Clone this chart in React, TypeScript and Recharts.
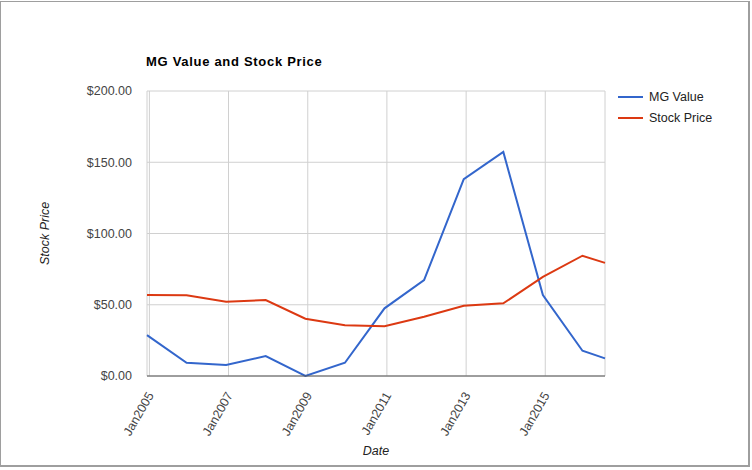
import { LineChart, Line, XAxis, YAxis, CartesianGrid, Legend } from 'recharts'

const dates = [
  '2004-12-10',
  '2005-12-10',
  '2006-12-10',
  '2007-12-10',
  '2008-12-10',
  '2009-12-10',
  '2010-12-10',
  '2011-12-10',
  '2012-12-10',
  '2013-12-10',
  '2014-12-10',
  '2015-12-10',
  '2016-07-05',
]
const mgValue = [28.7, 9.3, 7.7, 14.0, 0, 9.3, 47.5, 67.3, 138.1, 157.2, 56.8, 17.7, 12.4]
const stockPrice = [56.8, 56.7, 52.1, 53.3, 40.2, 35.7, 35.0, 41.6, 49.3, 51.0, 69.6, 84.4, 79.4]
const xTickYears = [2005, 2007, 2009, 2011, 2013, 2015]
const yTicks = [0, 50, 100, 150, 200]

const FONT = '"Liberation Sans", Arial, sans-serif'
const BLUE = '#3366cc'
const RED = '#dc3912'

const data = dates.map((d, i) => ({
  t: Date.parse(d + 'T00:00:00Z'),
  mg: mgValue[i],
  price: stockPrice[i],
}))
const xTicks = xTickYears.map((y) => Date.UTC(y, 0, 1))

const XTick = (props: any) => {
  const { x, y, payload } = props
  const yr = new Date(payload.value).getUTCFullYear()
  return (
    <g transform={`translate(${x + 1},${y + 15}) rotate(-60)`}>
      <text
        textAnchor="end"
        dy="0.35em"
        fill="#444"
        fontSize={12.5}
        fontFamily={FONT}
      >
        {'Jan' + yr}
      </text>
    </g>
  )
}

const LegendBox = () => (
  <div style={{ fontFamily: FONT, fontSize: 12.5, color: '#222' }}>
    {[
      { name: 'MG Value', color: BLUE },
      { name: 'Stock Price', color: RED },
    ].map((s) => (
      <div key={s.name} style={{ display: 'flex', alignItems: 'center', height: 21 }}>
        <span style={{ width: 25, height: 2, background: s.color, marginRight: 6 }} />
        {s.name}
      </div>
    ))}
  </div>
)

export default function App() {
  return (
    <div
      style={{
        position: 'fixed',
        left: 0,
        top: 0,
        width: 752,
        height: 470,
        background: '#fff',
        fontFamily: FONT,
      }}
    >
      <div
        style={{
          position: 'absolute',
          left: 0,
          top: 1,
          width: 747,
          height: 463,
          border: '1px solid #9e9e9e',
          borderWidth: '1px 2px 2px 1px',
        }}
      />
      <div
        style={{
          position: 'absolute',
          left: 146,
          top: 54,
          fontSize: 13,
          fontWeight: 'bold',
          letterSpacing: 0.7,
          color: '#000',
        }}
      >
        MG Value and Stock Price
      </div>
      <div style={{ position: 'absolute', left: 0, top: 0 }}>
        <LineChart
          width={752}
          height={470}
          data={data}
          margin={{ top: 91, right: 147, left: 0, bottom: 0 }}
        >
          <CartesianGrid stroke="#d0d0d0" strokeWidth={1} />
          <XAxis
            dataKey="t"
            type="number"
            scale="time"
            domain={['dataMin', 'dataMax']}
            ticks={xTicks}
            tick={<XTick />}
            tickLine={false}
            tickSize={0}
            axisLine={{ stroke: '#555', strokeWidth: 1 }}
            height={94}
            interval={0}
            label={{
              value: 'Date',
              position: 'insideBottom',
              offset: 15,
              fill: '#222',
              fontSize: 12.5,
              fontStyle: 'italic',
              fontFamily: FONT,
            }}
          />
          <YAxis
            type="number"
            domain={[0, 200]}
            ticks={yTicks}
            tickFormatter={(v: number) => '$' + v.toFixed(2)}
            tick={{ fill: '#444', fontSize: 12.5, fontFamily: FONT }}
            tickLine={false}
            tickSize={0}
            tickMargin={15}
            axisLine={false}
            width={147}
            label={{
              value: 'Stock Price',
              angle: -90,
              position: 'insideLeft',
              offset: 45,
              fill: '#222',
              fontSize: 12.5,
              fontStyle: 'italic',
              fontFamily: FONT,
              style: { textAnchor: 'middle' },
            }}
          />
          <Legend
            layout="horizontal"
            align="center"
            verticalAlign="middle"
            content={<LegendBox />}
            wrapperStyle={{ top: 86, left: 618, width: 130 }}
          />
          <Line
            type="linear"
            dataKey="mg"
            name="MG Value"
            stroke={BLUE}
            strokeWidth={2}
            dot={false}
            isAnimationActive={false}
          />
          <Line
            type="linear"
            dataKey="price"
            name="Stock Price"
            stroke={RED}
            strokeWidth={2}
            dot={false}
            isAnimationActive={false}
          />
        </LineChart>
      </div>
    </div>
  )
}
